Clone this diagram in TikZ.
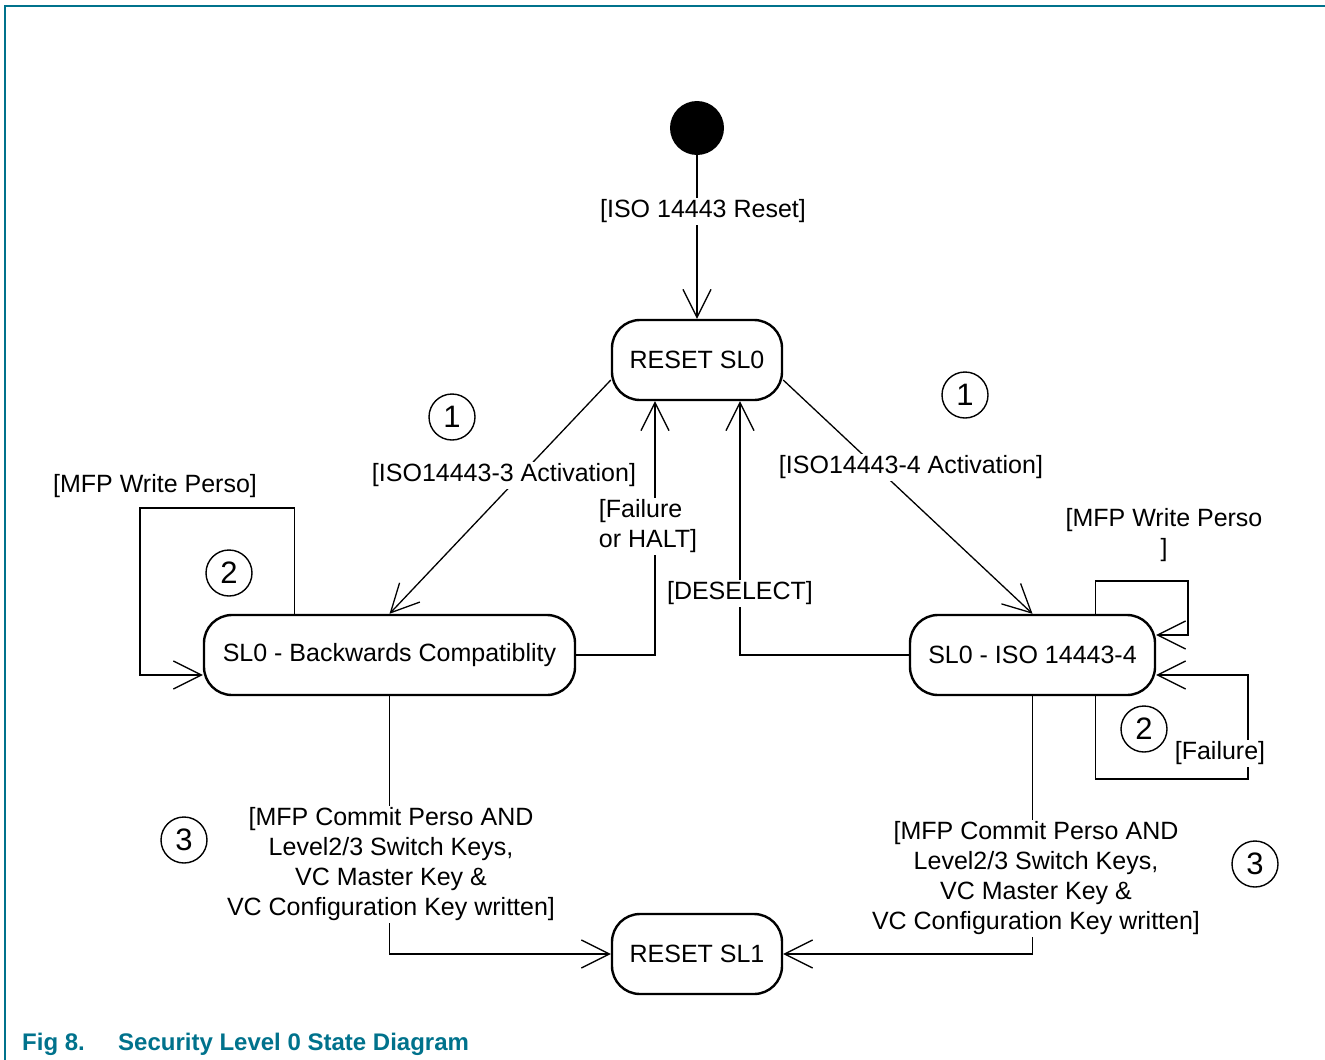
\documentclass[tikz,border=0pt]{standalone}
\usepackage{fontspec}
\setmainfont{Liberation Sans}
\usetikzlibrary{arrows.meta}
\definecolor{nxpteal}{RGB}{0,114,140}

\begin{document}
\begin{tikzpicture}[x=1pt,y=-1pt,
  state/.style={draw,line width=2.4pt,rounded corners=28pt,minimum height=80pt,
    inner sep=0pt,font=\fontsize{25}{30}\selectfont},
  trans/.style={line width=1.3pt,-{Straight Barb[length=28pt,width=28pt]}},
  lbl/.style={fill=white,inner sep=2pt,align=center,font=\fontsize{25}{30}\selectfont},
  num/.style={draw,circle,line width=1.4pt,minimum size=46pt,inner sep=0pt,
    font=\fontsize{31}{31}\selectfont},
  capt/.style={text=nxpteal,font=\bfseries\fontsize{24}{28}\selectfont,
    anchor=base west,inner sep=0pt}]

\useasboundingbox (0,0) rectangle (1325,1060);
% frame rule
\draw[nxpteal,line width=2pt] (1325,6) -- (5,6) -- (5,1060);

% states
\node[circle,fill=black,minimum size=54pt,inner sep=0pt] (init) at (697,128) {};
\node[state,minimum width=170pt] (rs0) at (697,360) {RESET SL0};
\node[state,minimum width=371pt] (bc) at (389.5,655) {SL0 - Backwards Compatiblity};
\node[state,minimum width=245pt] (iso) at (1032.5,655) {SL0 - ISO 14443-4};
\node[state,minimum width=170pt] (rs1) at (697,954) {RESET SL1};

% loop corners
\coordinate (bcloopA) at (140,508);
\coordinate (isoloopA) at (1188,581);
\coordinate (isoloopB) at (1248,779);

% transitions
\draw[trans] (init) -- (rs0);
\draw[trans] ([yshift=-20pt]rs0.west) -- (bc.north);
\draw[trans] ([yshift=-20pt]rs0.east) -- (iso.north);
\draw[trans] (bc.east) -| ([xshift=-42pt]rs0.south);
\draw[trans] (iso.west) -| ([xshift=43pt]rs0.south);
\draw[trans] ([xshift=92pt]bc.north west) |- (bcloopA) |- ([yshift=-20pt]bc.west);
\draw[trans] ([xshift=-61pt]iso.north east) |- (isoloopA) |- ([yshift=20pt]iso.east);
\draw[trans] ([xshift=-61pt]iso.south east) |- (isoloopB) |- ([yshift=-20pt]iso.east);
\draw[trans] (bc.south) |- (rs1.west);
\draw[trans] (iso.south) |- (rs1.east);

% guards
\node[lbl] (lreset) at (703,211.5) {[ISO 14443 Reset]};
\node[lbl] (lact3) at (504,475.5) {[ISO14443-3 Activation]};
\node[lbl] (lact4) at (911,467.5) {[ISO14443-4 Activation]};
\node[lbl,align=left] (lhalt) at (648,526.5) {[Failure\\or HALT]};
\node[lbl] (ldes) at (740,593.5) {[DESELECT]};
\node[lbl] (lwpA) at (155,486.5) {[MFP Write Perso]};
\node[lbl] (lwpB) at (1164,535) {[MFP Write Perso\\]};
\node[lbl] (lfail) at (1220,753.5) {[Failure]};
\node[lbl] (lcommitA) at (391,864.5) {[MFP Commit Perso AND\\Level2/3 Switch Keys,\\VC Master Key \&\\VC Configuration Key written]};
\node[lbl] (lcommitB) at (1036,878.5) {[MFP Commit Perso AND\\Level2/3 Switch Keys,\\VC Master Key \&\\VC Configuration Key written]};

% step markers
\node[num] (oneA) at (452,417) {1};
\node[num] (oneB) at (965,395) {1};
\node[num] (twoA) at (229,573) {2};
\node[num] (twoB) at (1144,729) {2};
\node[num] (threeA) at (184,840) {3};
\node[num] (threeB) at (1255,864) {3};

% caption
\node[capt] (fignum) at (22,1050) {Fig 8.};
\node[capt] (figtitle) at (118,1050) {Security Level 0 State Diagram};
\end{tikzpicture}
\end{document}
